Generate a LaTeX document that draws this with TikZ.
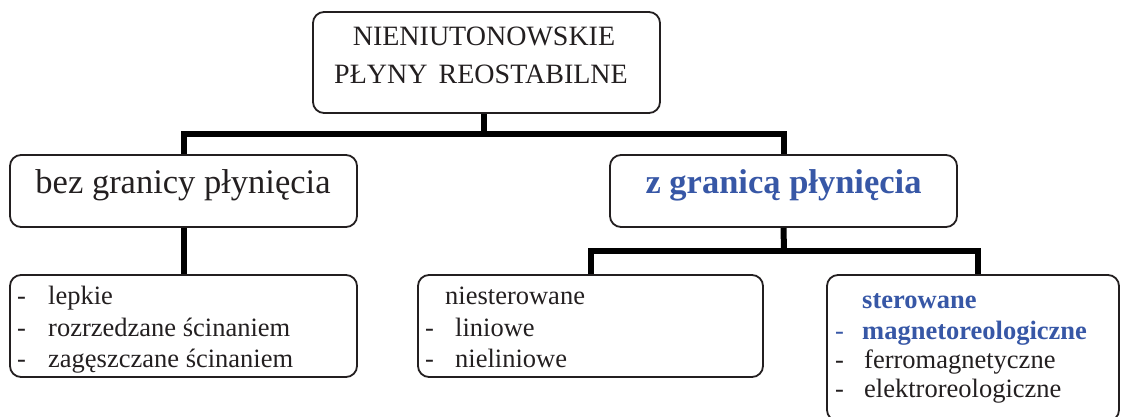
\documentclass[tikz,border=0pt]{standalone}
\usepackage{fontspec}
\setmainfont{Liberation Serif}
\definecolor{ink}{HTML}{231F20}
\definecolor{flowblue}{RGB}{55,87,166}
\tikzset{box/.style={draw=ink, line width=1.8pt, rounded corners=11pt, inner sep=0pt},
  trunk/.style={draw=black, line width=6pt},
  word/.style={inner sep=0pt, anchor=base west, text=ink, font=\fontsize{26.5}{31}\selectfont},
  bword/.style={word, text=flowblue, font=\fontsize{26.5}{31}\selectfont\bfseries}}

\begin{document}
\begin{tikzpicture}[x=1pt, y=-1pt]
  \useasboundingbox (0,0) rectangle (1121,416);
  \clip (0,0) rectangle (1121,416);
  \coordinate (bar1) at (484,133.5);
  \coordinate (bar2) at (784,251);

  \node [box, minimum width=347pt, minimum height=101pt] (top) at (486.5,62.5) {};
  \node [box, minimum width=347pt, minimum height=72pt] (bez) at (183.5,191) {};
  \node [box, minimum width=347pt, minimum height=72pt] (zgr) at (783.5,191) {};
  \node [box, minimum width=347pt, minimum height=102pt] (lep) at (183.5,326) {};
  \node [box, minimum width=345pt, minimum height=102pt] (nst) at (590.5,326) {};
  \node [box, minimum width=292pt, minimum height=146pt] (ster) at (973,348) {};

  \draw [trunk] (top.south -| bar1) -- (bar1);
  \draw [trunk] (bez.north) |- (bar1) -| (zgr.north);
  \draw [trunk] (bez.south) -- (lep.north);
  \draw [trunk] (zgr.south) -- (bar2);
  \draw [trunk] (nst.north) |- (bar2) -| ([xshift=5pt]ster.north);

  \node [word, anchor=base, font=\fontsize{28}{38}\selectfont] (t1) at (484,45) {NIENIUTONOWSKIE};
  \node [word, anchor=base, font=\fontsize{28}{38}\selectfont] (t2) at (481,83) {PŁYNY\hspace{0.4em}REOSTABILNE};
  \node [word, anchor=base, font=\fontsize{34.5}{40}\selectfont] (b1) at (183,193) {bez granicy płynięcia};
  \node [bword, anchor=base, font=\fontsize{34.5}{40}\selectfont\bfseries] (z1) at (783.5,193) {z granicą płynięcia};

  \node [word] (d1) at (17,304) {-};
  \node [word] (d2) at (17,336) {-};
  \node [word] (d3) at (17,367) {-};
  \node [word] (l1) at (48,304) {lepkie};
  \node [word] (l2) at (48,336) {rozrzedzane ścinaniem};
  \node [word] (l3) at (48,367) {zagęszczane ścinaniem};

  \node [word] (n1) at (445,304) {niesterowane};
  \node [word] (d4) at (425,336) {-};
  \node [word] (d5) at (425,367) {-};
  \node [word] (n2) at (455,336) {liniowe};
  \node [word] (n3) at (455,367) {nieliniowe};

  \node [bword] (s1) at (862,308) {sterowane};
  \node [word, text=flowblue] (d6) at (835,339) {-};
  \node [bword] (s2) at (862,339) {magnetoreologiczne};
  \node [word] (d7) at (835,368) {-};
  \node [word] (s3) at (864,368) {ferromagnetyczne};
  \node [word] (d8) at (835,397) {-};
  \node [word] (s4) at (864,397) {elektroreologiczne};
\end{tikzpicture}
\end{document}
